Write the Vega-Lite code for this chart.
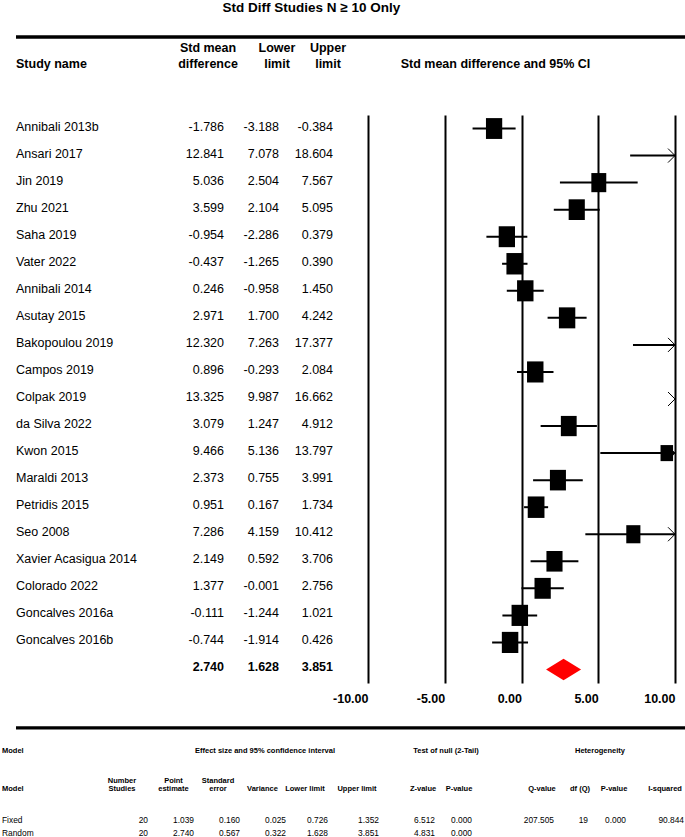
{
  "$schema": "https://vega.github.io/schema/vega-lite/v6.json",
  "background": "white",
  "padding": {"left": 2, "top": 1, "right": 0, "bottom": 0},
  "title": {"text": "Std Diff Studies N ≥ 10 Only", "fontSize": 13.5, "offset": 20.5, "anchor": "middle", "dx": -33},
  "datasets": {
    "studies": [
      {"study": "Annibali 2013b", "smd": -1.786, "lower": -3.188, "upper": -0.384, "weight": 5.56, "type": "study"},
      {"study": "Ansari 2017", "smd": 12.841, "lower": 7.078, "upper": 18.604, "weight": 2.30, "type": "study"},
      {"study": "Jin 2019", "smd": 5.036, "lower": 2.504, "upper": 7.567, "weight": 4.63, "type": "study"},
      {"study": "Zhu 2021", "smd": 3.599, "lower": 2.104, "upper": 5.095, "weight": 5.49, "type": "study"},
      {"study": "Saha 2019", "smd": -0.954, "lower": -2.286, "upper": 0.379, "weight": 5.60, "type": "study"},
      {"study": "Vater 2022", "smd": -0.437, "lower": -1.265, "upper": 0.390, "weight": 5.90, "type": "study"},
      {"study": "Annibali 2014", "smd": 0.246, "lower": -0.958, "upper": 1.450, "weight": 5.69, "type": "study"},
      {"study": "Asutay 2015", "smd": 2.971, "lower": 1.700, "upper": 4.242, "weight": 5.65, "type": "study"},
      {"study": "Bakopoulou 2019", "smd": 12.320, "lower": 7.263, "upper": 17.377, "weight": 2.69, "type": "study"},
      {"study": "Campos 2019", "smd": 0.896, "lower": -0.293, "upper": 2.084, "weight": 5.70, "type": "study"},
      {"study": "Colpak 2019", "smd": 13.325, "lower": 9.987, "upper": 16.662, "weight": 3.93, "type": "study"},
      {"study": "da Silva 2022", "smd": 3.079, "lower": 1.247, "upper": 4.912, "weight": 5.23, "type": "study"},
      {"study": "Kwon 2015", "smd": 9.466, "lower": 5.136, "upper": 13.797, "weight": 3.16, "type": "study"},
      {"study": "Maraldi 2013", "smd": 2.373, "lower": 0.755, "upper": 3.991, "weight": 5.40, "type": "study"},
      {"study": "Petridis 2015", "smd": 0.951, "lower": 0.167, "upper": 1.734, "weight": 5.92, "type": "study"},
      {"study": "Seo 2008", "smd": 7.286, "lower": 4.159, "upper": 10.412, "weight": 4.11, "type": "study"},
      {"study": "Xavier Acasigua 2014", "smd": 2.149, "lower": 0.592, "upper": 3.706, "weight": 5.44, "type": "study"},
      {"study": "Colorado 2022", "smd": 1.377, "lower": -0.001, "upper": 2.756, "weight": 5.57, "type": "study"},
      {"study": "Goncalves 2016a", "smd": -0.111, "lower": -1.244, "upper": 1.021, "weight": 5.73, "type": "study"},
      {"study": "Goncalves 2016b", "smd": -0.744, "lower": -1.914, "upper": 0.426, "weight": 5.71, "type": "study"},
      {"study": "Random effects", "smd": 2.740, "lower": 1.628, "upper": 3.851, "weight": null, "type": "summary"}
    ],
    "model": [
      {"model": "Fixed", "k": 20, "est": 1.039, "se": 0.160, "var": 0.025, "lo": 0.726, "hi": 1.352, "z": 6.512, "p": 0.000, "q": 207.505, "df": 19, "ph": 0.000, "i2": 90.844},
      {"model": "Random", "k": 20, "est": 2.740, "se": 0.567, "var": 0.322, "lo": 1.628, "hi": 3.851, "z": 4.831, "p": 0.000}
    ]
  },
  "spacing": 0,
  "bounds": "full",
  "vconcat": [
    {
      "spacing": 0, "bounds": "flush",
      "hconcat": [
        {"width": 14, "height": 1, "data": {"values": []}, "mark": "text"},
        {
          "width": 669, "height": 5,
          "data": {"values": [{}]},
          "mark": {"type": "rule", "strokeWidth": 3.3, "color": "black"},
          "encoding": {"y": {"datum": 1, "type": "quantitative", "scale": {"domain": [0, 1]}, "axis": null}}
        }
      ]
    },
    {
      "spacing": 0, "bounds": "flush",
      "hconcat": [
        {"width": 14, "height": 1, "data": {"values": []}, "mark": "text"},
        {
          "width": 173, "height": 568,
          "data": {"name": "studies"},
          "title": {"text": "Study name", "anchor": "start"},
          "mark": {"type": "text", "align": "left", "baseline": "middle", "fontSize": 12.5, "dy": -2},
          "encoding": {
            "x": {"value": 0},
            "y": {"field": "study", "type": "nominal", "sort": null, "axis": null, "scale": {"type": "point", "padding": 0.5}},
            "text": {"condition": {"test": "datum.type === 'summary'", "value": ""}, "field": "study", "type": "nominal"}
          }
        },
        {
          "width": 35, "height": 568,
          "data": {"name": "studies"},
          "title": {"text": ["Std mean", "difference"], "anchor": "middle", "dx": 1.5},
          "encoding": {
            "x": {"value": "width"},
            "y": {"field": "study", "type": "nominal", "sort": null, "axis": null, "scale": {"type": "point", "padding": 0.5}}
          },
          "layer": [
            {"mark": {"type": "text", "align": "right", "baseline": "middle", "fontSize": 12.5, "dy": -2},
             "encoding": {"text": {"condition": {"test": "datum.type === 'summary'", "value": ""}, "field": "smd", "type": "quantitative", "format": ".3f"}}},
            {"mark": {"type": "text", "align": "right", "baseline": "middle", "fontSize": 12.5, "dy": -2, "fontWeight": "bold"},
             "encoding": {"text": {"condition": {"test": "datum.type !== 'summary'", "value": ""}, "field": "smd", "type": "quantitative", "format": ".3f"}}}
          ]
        },
        {
          "width": 55, "height": 568,
          "data": {"name": "studies"},
          "title": {"text": ["Lower", "limit"], "anchor": "middle", "dx": 25.5},
          "encoding": {
            "x": {"value": "width"},
            "y": {"field": "study", "type": "nominal", "sort": null, "axis": null, "scale": {"type": "point", "padding": 0.5}}
          },
          "layer": [
            {"mark": {"type": "text", "align": "right", "baseline": "middle", "fontSize": 12.5, "dy": -2},
             "encoding": {"text": {"condition": {"test": "datum.type === 'summary'", "value": ""}, "field": "lower", "type": "quantitative", "format": ".3f"}}},
            {"mark": {"type": "text", "align": "right", "baseline": "middle", "fontSize": 12.5, "dy": -2, "fontWeight": "bold"},
             "encoding": {"text": {"condition": {"test": "datum.type !== 'summary'", "value": ""}, "field": "lower", "type": "quantitative", "format": ".3f"}}}
          ]
        },
        {
          "width": 54, "height": 568,
          "data": {"name": "studies"},
          "title": {"text": ["Upper", "limit"], "anchor": "middle", "dx": 22},
          "encoding": {
            "x": {"value": "width"},
            "y": {"field": "study", "type": "nominal", "sort": null, "axis": null, "scale": {"type": "point", "padding": 0.5}}
          },
          "layer": [
            {"mark": {"type": "text", "align": "right", "baseline": "middle", "fontSize": 12.5, "dy": -2},
             "encoding": {"text": {"condition": {"test": "datum.type === 'summary'", "value": ""}, "field": "upper", "type": "quantitative", "format": ".3f"}}},
            {"mark": {"type": "text", "align": "right", "baseline": "middle", "fontSize": 12.5, "dy": -2, "fontWeight": "bold"},
             "encoding": {"text": {"condition": {"test": "datum.type !== 'summary'", "value": ""}, "field": "upper", "type": "quantitative", "format": ".3f"}}}
          ]
        },
        {"width": 35, "height": 1, "data": {"values": []}, "mark": "text"},
        {
          "width": 307, "height": 568,
          "data": {"name": "studies"},
          "title": {"text": "Std mean difference and 95% CI", "anchor": "middle", "dx": -26},
          "encoding": {
            "y": {"field": "study", "type": "nominal", "sort": null, "axis": null, "scale": {"type": "point", "padding": 0.5}}
          },
          "layer": [
            {
              "mark": {"type": "rule", "strokeWidth": 2, "color": "black", "clip": true},
              "encoding": {
                "x": {"field": "lower", "type": "quantitative",
                      "scale": {"domain": [-10, 10], "nice": false, "zero": false, "clamp": true},
                      "axis": {"values": [-10, -5, 0, 5, 10], "format": ".2f", "grid": true, "gridColor": "black", "gridWidth": 2, "gridOpacity": 1,
                               "domain": false, "ticks": false, "labelFontSize": 12.5, "labelFontWeight": "bold", "labelColor": "black",
                               "labelAlign": "right", "labelDx": 4, "labelPadding": 9, "labelFlush": false, "labelOverlap": false, "title": null}},
                "x2": {"field": "upper"},
                "opacity": {"condition": {"test": "datum.type === 'study'", "value": 1}, "value": 0}
              }
            },
            {
              "mark": {"type": "point", "shape": "M-0.78,-1L0.78,-1L0.78,1L-0.78,1Z", "filled": true, "color": "black", "opacity": 1, "strokeWidth": 0, "clip": true},
              "encoding": {
                "x": {"field": "smd", "type": "quantitative"},
                "size": {"condition": {"test": "datum.type !== 'study' || datum.smd > 10", "value": 0}, "field": "weight", "type": "quantitative", "scale": {"domain": [3, 6], "range": [246, 467]}, "legend": null}
              }
            },
            {
              "mark": {"type": "point", "shape": "M-1,-1L0,0L-1,1", "filled": false, "color": "black", "strokeWidth": 1, "opacity": 1, "clip": true},
              "encoding": {
                "x": {"datum": 10, "type": "quantitative"},
                "size": {"condition": {"test": "datum.type === 'study' && datum.upper > 10", "value": 196}, "value": 0}
              }
            },
            {
              "mark": {"type": "point", "shape": "M-1,0L0,-0.62L1,0L0,0.62Z", "filled": true, "color": "#ff0000", "opacity": 1, "strokeWidth": 0, "clip": true},
              "encoding": {
                "x": {"field": "smd", "type": "quantitative"},
                "size": {"condition": {"test": "datum.type === 'summary'", "value": 1225}, "value": 0}
              }
            }
          ]
        }
      ]
    },
    {
      "spacing": 0, "bounds": "flush",
      "hconcat": [
        {"width": 14, "height": 1, "data": {"values": []}, "mark": "text"},
        {
          "width": 669, "height": 22.9,
          "data": {"values": [{}]},
          "mark": {"type": "rule", "strokeWidth": 3.3, "color": "black"},
          "encoding": {"y": {"datum": 0, "type": "quantitative", "scale": {"domain": [0, 1]}, "axis": null}}
        }
      ]
    },
    {
      "spacing": 0, "bounds": "flush",
      "hconcat": [
        {"width": 98, "height": 63.25, "data": {"values": [{"label": "Model", "group": "Model"}]},
         "layer": [
           {"mark": {"type": "text", "align": "left", "baseline": "bottom", "fontSize": 7.5, "fontWeight": "bold"}, "encoding": {"x": {"value": 0}, "y": {"value": "height"}, "text": {"field": "label"}}},
           {"mark": {"type": "text", "align": "left", "baseline": "middle", "fontSize": 7.5, "fontWeight": "bold", "dy": 20.5}, "encoding": {"x": {"value": 0}, "y": {"value": 0}, "text": {"field": "group"}}}
         ]},
        {"width": 48, "height": 63.25, "data": {"values": [{"label": "Number\nStudies"}]},
         "mark": {"type": "text", "align": "center", "baseline": "bottom", "fontSize": 7.5, "fontWeight": "bold", "lineBreak": "\n", "lineHeight": 8.7, "dx": -26, "dy": -8.7},
         "encoding": {"x": {"value": "width"}, "y": {"value": "height"}, "text": {"field": "label"}}},
        {"width": 46, "height": 63.25, "data": {"values": [{"label": "Point\nestimate"}]},
         "mark": {"type": "text", "align": "center", "baseline": "bottom", "fontSize": 7.5, "fontWeight": "bold", "lineBreak": "\n", "lineHeight": 8.7, "dx": -20.5, "dy": -8.7},
         "encoding": {"x": {"value": "width"}, "y": {"value": "height"}, "text": {"field": "label"}}},
        {"width": 46, "height": 63.25, "data": {"values": [{"label": "Standard\nerror"}]},
         "mark": {"type": "text", "align": "center", "baseline": "bottom", "fontSize": 7.5, "fontWeight": "bold", "lineBreak": "\n", "lineHeight": 8.7, "dx": -22, "dy": -8.7},
         "encoding": {"x": {"value": "width"}, "y": {"value": "height"}, "text": {"field": "label"}}},
        {"width": 46, "height": 63.25, "data": {"values": [{"label": "Variance", "group": "Effect size and 95% confidence interval"}]},
         "layer": [
           {"mark": {"type": "text", "align": "center", "baseline": "bottom", "fontSize": 7.5, "fontWeight": "bold", "dx": -23.5}, "encoding": {"x": {"value": "width"}, "y": {"value": "height"}, "text": {"field": "label"}}},
           {"mark": {"type": "text", "align": "center", "baseline": "middle", "fontSize": 7.5, "fontWeight": "bold", "dx": -21, "dy": 20.5}, "encoding": {"x": {"value": "width"}, "y": {"value": 0}, "text": {"field": "group"}}}
         ]},
        {"width": 42, "height": 63.25, "data": {"values": [{"label": "Lower limit"}]},
         "mark": {"type": "text", "align": "center", "baseline": "bottom", "fontSize": 7.5, "fontWeight": "bold", "dx": -23},
         "encoding": {"x": {"value": "width"}, "y": {"value": "height"}, "text": {"field": "label"}}},
        {"width": 51, "height": 63.25, "data": {"values": [{"label": "Upper limit"}]},
         "mark": {"type": "text", "align": "center", "baseline": "bottom", "fontSize": 7.5, "fontWeight": "bold", "dx": -22},
         "encoding": {"x": {"value": "width"}, "y": {"value": "height"}, "text": {"field": "label"}}},
        {"width": 56, "height": 63.25, "data": {"values": [{"label": "Z-value"}]},
         "mark": {"type": "text", "align": "center", "baseline": "bottom", "fontSize": 7.5, "fontWeight": "bold", "dx": -12},
         "encoding": {"x": {"value": "width"}, "y": {"value": "height"}, "text": {"field": "label"}}},
        {"width": 37, "height": 63.25, "data": {"values": [{"label": "P-value", "group": "Test of null (2-Tail)"}]},
         "layer": [
           {"mark": {"type": "text", "align": "center", "baseline": "bottom", "fontSize": 7.5, "fontWeight": "bold", "dx": -13}, "encoding": {"x": {"value": "width"}, "y": {"value": "height"}, "text": {"field": "label"}}},
           {"mark": {"type": "text", "align": "center", "baseline": "middle", "fontSize": 7.5, "fontWeight": "bold", "dx": -26, "dy": 20.5}, "encoding": {"x": {"value": "width"}, "y": {"value": 0}, "text": {"field": "group"}}}
         ]},
        {"width": 82, "height": 63.25, "data": {"values": [{"label": "Q-value"}]},
         "mark": {"type": "text", "align": "center", "baseline": "bottom", "fontSize": 7.5, "fontWeight": "bold", "dx": -12},
         "encoding": {"x": {"value": "width"}, "y": {"value": "height"}, "text": {"field": "label"}}},
        {"width": 34, "height": 63.25, "data": {"values": [{"label": "df (Q)"}]},
         "mark": {"type": "text", "align": "center", "baseline": "bottom", "fontSize": 7.5, "fontWeight": "bold", "dx": -8},
         "encoding": {"x": {"value": "width"}, "y": {"value": "height"}, "text": {"field": "label"}}},
        {"width": 38, "height": 63.25, "data": {"values": [{"label": "P-value", "group": "Heterogeneity"}]},
         "layer": [
           {"mark": {"type": "text", "align": "center", "baseline": "bottom", "fontSize": 7.5, "fontWeight": "bold", "dx": -12}, "encoding": {"x": {"value": "width"}, "y": {"value": "height"}, "text": {"field": "label"}}},
           {"mark": {"type": "text", "align": "center", "baseline": "middle", "fontSize": 7.5, "fontWeight": "bold", "dx": -26, "dy": 20.5}, "encoding": {"x": {"value": "width"}, "y": {"value": 0}, "text": {"field": "group"}}}
         ]},
        {"width": 58, "height": 63.25, "data": {"values": [{"label": "I-squared"}]},
         "mark": {"type": "text", "align": "center", "baseline": "bottom", "fontSize": 7.5, "fontWeight": "bold", "dx": -19},
         "encoding": {"x": {"value": "width"}, "y": {"value": "height"}, "text": {"field": "label"}}}
      ]
    },
    {
      "spacing": 0, "bounds": "flush",
      "hconcat": [
        {"width": 98, "height": 38.5, "data": {"name": "model"},
         "mark": {"type": "text", "align": "left", "baseline": "middle", "fontSize": 8.4},
         "encoding": {"x": {"value": 0}, "y": {"field": "model", "type": "nominal", "axis": null, "scale": {"type": "point", "domain": ["Fixed", "Random"], "padding": 1.333, "align": 1}}, "text": {"field": "model", "type": "nominal"}}},
        {"width": 48, "height": 38.5, "data": {"name": "model"},
         "mark": {"type": "text", "align": "right", "baseline": "middle", "fontSize": 8.4},
         "encoding": {"x": {"value": "width"}, "y": {"field": "model", "type": "nominal", "axis": null, "scale": {"type": "point", "domain": ["Fixed", "Random"], "padding": 1.333, "align": 1}}, "text": {"field": "k", "type": "quantitative", "format": "d"}}},
        {"width": 46, "height": 38.5, "data": {"name": "model"},
         "mark": {"type": "text", "align": "right", "baseline": "middle", "fontSize": 8.4},
         "encoding": {"x": {"value": "width"}, "y": {"field": "model", "type": "nominal", "axis": null, "scale": {"type": "point", "domain": ["Fixed", "Random"], "padding": 1.333, "align": 1}}, "text": {"field": "est", "type": "quantitative", "format": ".3f"}}},
        {"width": 46, "height": 38.5, "data": {"name": "model"},
         "mark": {"type": "text", "align": "right", "baseline": "middle", "fontSize": 8.4},
         "encoding": {"x": {"value": "width"}, "y": {"field": "model", "type": "nominal", "axis": null, "scale": {"type": "point", "domain": ["Fixed", "Random"], "padding": 1.333, "align": 1}}, "text": {"field": "se", "type": "quantitative", "format": ".3f"}}},
        {"width": 46, "height": 38.5, "data": {"name": "model"},
         "mark": {"type": "text", "align": "right", "baseline": "middle", "fontSize": 8.4},
         "encoding": {"x": {"value": "width"}, "y": {"field": "model", "type": "nominal", "axis": null, "scale": {"type": "point", "domain": ["Fixed", "Random"], "padding": 1.333, "align": 1}}, "text": {"field": "var", "type": "quantitative", "format": ".3f"}}},
        {"width": 42, "height": 38.5, "data": {"name": "model"},
         "mark": {"type": "text", "align": "right", "baseline": "middle", "fontSize": 8.4},
         "encoding": {"x": {"value": "width"}, "y": {"field": "model", "type": "nominal", "axis": null, "scale": {"type": "point", "domain": ["Fixed", "Random"], "padding": 1.333, "align": 1}}, "text": {"field": "lo", "type": "quantitative", "format": ".3f"}}},
        {"width": 51, "height": 38.5, "data": {"name": "model"},
         "mark": {"type": "text", "align": "right", "baseline": "middle", "fontSize": 8.4},
         "encoding": {"x": {"value": "width"}, "y": {"field": "model", "type": "nominal", "axis": null, "scale": {"type": "point", "domain": ["Fixed", "Random"], "padding": 1.333, "align": 1}}, "text": {"field": "hi", "type": "quantitative", "format": ".3f"}}},
        {"width": 56, "height": 38.5, "data": {"name": "model"},
         "mark": {"type": "text", "align": "right", "baseline": "middle", "fontSize": 8.4},
         "encoding": {"x": {"value": "width"}, "y": {"field": "model", "type": "nominal", "axis": null, "scale": {"type": "point", "domain": ["Fixed", "Random"], "padding": 1.333, "align": 1}}, "text": {"field": "z", "type": "quantitative", "format": ".3f"}}},
        {"width": 37, "height": 38.5, "data": {"name": "model"},
         "mark": {"type": "text", "align": "right", "baseline": "middle", "fontSize": 8.4},
         "encoding": {"x": {"value": "width"}, "y": {"field": "model", "type": "nominal", "axis": null, "scale": {"type": "point", "domain": ["Fixed", "Random"], "padding": 1.333, "align": 1}}, "text": {"field": "p", "type": "quantitative", "format": ".3f"}}},
        {"width": 82, "height": 38.5, "data": {"name": "model"}, "transform": [{"filter": "isValid(datum.q)"}],
         "mark": {"type": "text", "align": "right", "baseline": "middle", "fontSize": 8.4},
         "encoding": {"x": {"value": "width"}, "y": {"field": "model", "type": "nominal", "axis": null, "scale": {"type": "point", "domain": ["Fixed", "Random"], "padding": 1.333, "align": 1}}, "text": {"field": "q", "type": "quantitative", "format": ".3f"}}},
        {"width": 34, "height": 38.5, "data": {"name": "model"}, "transform": [{"filter": "isValid(datum.df)"}],
         "mark": {"type": "text", "align": "right", "baseline": "middle", "fontSize": 8.4},
         "encoding": {"x": {"value": "width"}, "y": {"field": "model", "type": "nominal", "axis": null, "scale": {"type": "point", "domain": ["Fixed", "Random"], "padding": 1.333, "align": 1}}, "text": {"field": "df", "type": "quantitative", "format": "d"}}},
        {"width": 38, "height": 38.5, "data": {"name": "model"}, "transform": [{"filter": "isValid(datum.ph)"}],
         "mark": {"type": "text", "align": "right", "baseline": "middle", "fontSize": 8.4},
         "encoding": {"x": {"value": "width"}, "y": {"field": "model", "type": "nominal", "axis": null, "scale": {"type": "point", "domain": ["Fixed", "Random"], "padding": 1.333, "align": 1}}, "text": {"field": "ph", "type": "quantitative", "format": ".3f"}}},
        {"width": 58, "height": 38.5, "data": {"name": "model"}, "transform": [{"filter": "isValid(datum.i2)"}],
         "mark": {"type": "text", "align": "right", "baseline": "middle", "fontSize": 8.4},
         "encoding": {"x": {"value": "width"}, "y": {"field": "model", "type": "nominal", "axis": null, "scale": {"type": "point", "domain": ["Fixed", "Random"], "padding": 1.333, "align": 1}}, "text": {"field": "i2", "type": "quantitative", "format": ".3f"}}}
      ]
    }
  ],
  "config": {
    "font": "Liberation Sans",
    "view": {"stroke": null},
    "text": {"color": "black", "font": "Liberation Sans"},
    "axis": {"labelFont": "Liberation Sans"},
    "title": {"font": "Liberation Sans", "fontSize": 12.5, "fontWeight": "bold", "color": "black", "baseline": "bottom", "offset": 45, "lineHeight": 15.5},
    "locale": {"number": {"decimal": ".", "thousands": ",", "grouping": [3], "currency": ["$", ""], "minus": "-"}}
  }
}
